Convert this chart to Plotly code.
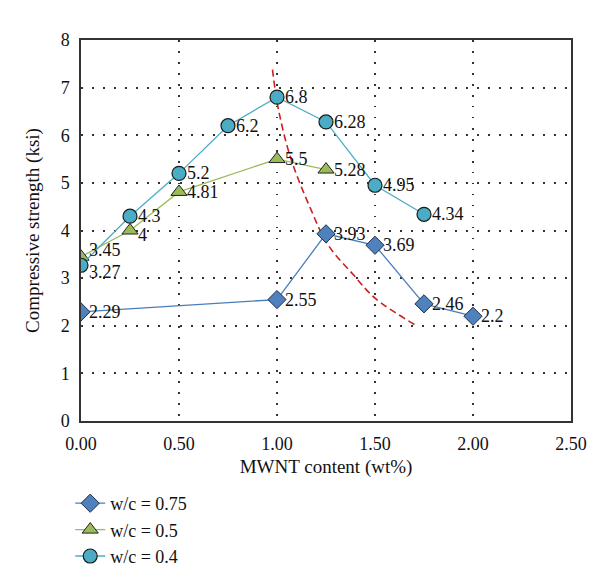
import plotly.graph_objects as go

# Data
x_075 = [0.0, 1.0, 1.25, 1.5, 1.75, 2.0]
y_075 = [2.29, 2.55, 3.93, 3.69, 2.46, 2.2]
x_05 = [0.0, 0.25, 0.5, 1.0, 1.25]
y_05 = [3.45, 4.0, 4.81, 5.5, 5.28]
x_04 = [0.0, 0.25, 0.5, 0.75, 1.0, 1.25, 1.5, 1.75]
y_04 = [3.27, 4.3, 5.2, 6.2, 6.8, 6.28, 4.95, 4.34]
trend_x = [0.977, 1.006, 1.07, 1.17, 1.26, 1.39, 1.5, 1.72]
trend_y = [7.38, 6.57, 5.52, 4.47, 3.70, 3.07, 2.58, 1.98]
x_ticks = [0, 0.5, 1.0, 1.5, 2.0, 2.5]
y_ticks = [0, 1, 2, 3, 4, 5, 6, 7, 8]

# label vertical nudges (pixels) to keep crowded labels apart
shift_075 = [0, 0, 0, 0, 0, 0]
shift_05 = [7, -4, 0, 0, 0]
shift_04 = [-7, 0, 0, 0, 0, 0, 0, 0]

FONT = "Liberation Serif"

fig = go.Figure()

fig.add_trace(go.Scatter(
    x=trend_x, y=trend_y, mode="lines",
    line=dict(color="#cc1f1f", width=1.6, dash="7px,4px", shape="spline"),
    showlegend=False, hoverinfo="skip"))

def fmt(v):
    return ("%g" % v)

lbl_font = dict(family=FONT, size=18, color="#111")

series = [
    ("w/c = 0.75", x_075, y_075, shift_075, "#4a7ebb",
     dict(symbol="diamond", size=14, color="#4f81bd", line=dict(color="#1f2f4a", width=1))),
    ("w/c = 0.5", x_05, y_05, shift_05, "#9bbb59",
     dict(symbol="triangle-up", size=14, color="#9bbb59", line=dict(color="#222", width=1))),
    ("w/c = 0.4", x_04, y_04, shift_04, "#4bacc6",
     dict(symbol="circle", size=14, color="#4bacc6", line=dict(color="#1a1a1a", width=1.2))),
]

for name, xs, ys, shifts, col, mk in series:
    fig.add_trace(go.Scatter(
        x=xs, y=ys, mode="lines+markers", name=name,
        line=dict(color=col, width=1.3), marker=mk))
    for xv, yv, s in zip(xs, ys, shifts):
        fig.add_annotation(x=xv, y=yv, text=fmt(yv), showarrow=False,
                           xanchor="left", yanchor="middle", xshift=7, yshift=s,
                           borderpad=0, font=lbl_font)

grid = dict(showgrid=True, gridcolor="#333", griddash="1.5px,9.5px", gridwidth=1.5,
            showline=True, linecolor="#333", linewidth=1.5, mirror=True,
            ticks="", zeroline=False, tickfont=dict(family=FONT, size=18),
            ticklabelstandoff=6)

fig.update_layout(
    width=600, height=587,
    margin=dict(l=73, r=37, t=32, b=174),
    paper_bgcolor="white", plot_bgcolor="white",
    font=dict(family=FONT, size=18, color="#111"),
    legend=dict(x=-0.022, y=-0.168, xanchor="left", yanchor="top",
                font=dict(family=FONT, size=18), bgcolor="rgba(0,0,0,0)",
                tracegroupgap=0),
    xaxis=dict(range=[0, 2.5], tickvals=x_ticks, tickformat=".2f", **grid,
               title=dict(text="MWNT content (wt%)", font=dict(family=FONT, size=19), standoff=6)),
    yaxis=dict(range=[0, 8], tickvals=y_ticks, **grid,
               title=dict(text="Compressive strength (ksi)", font=dict(family=FONT, size=19), standoff=16)),
)

fig.write_html("out.html")
